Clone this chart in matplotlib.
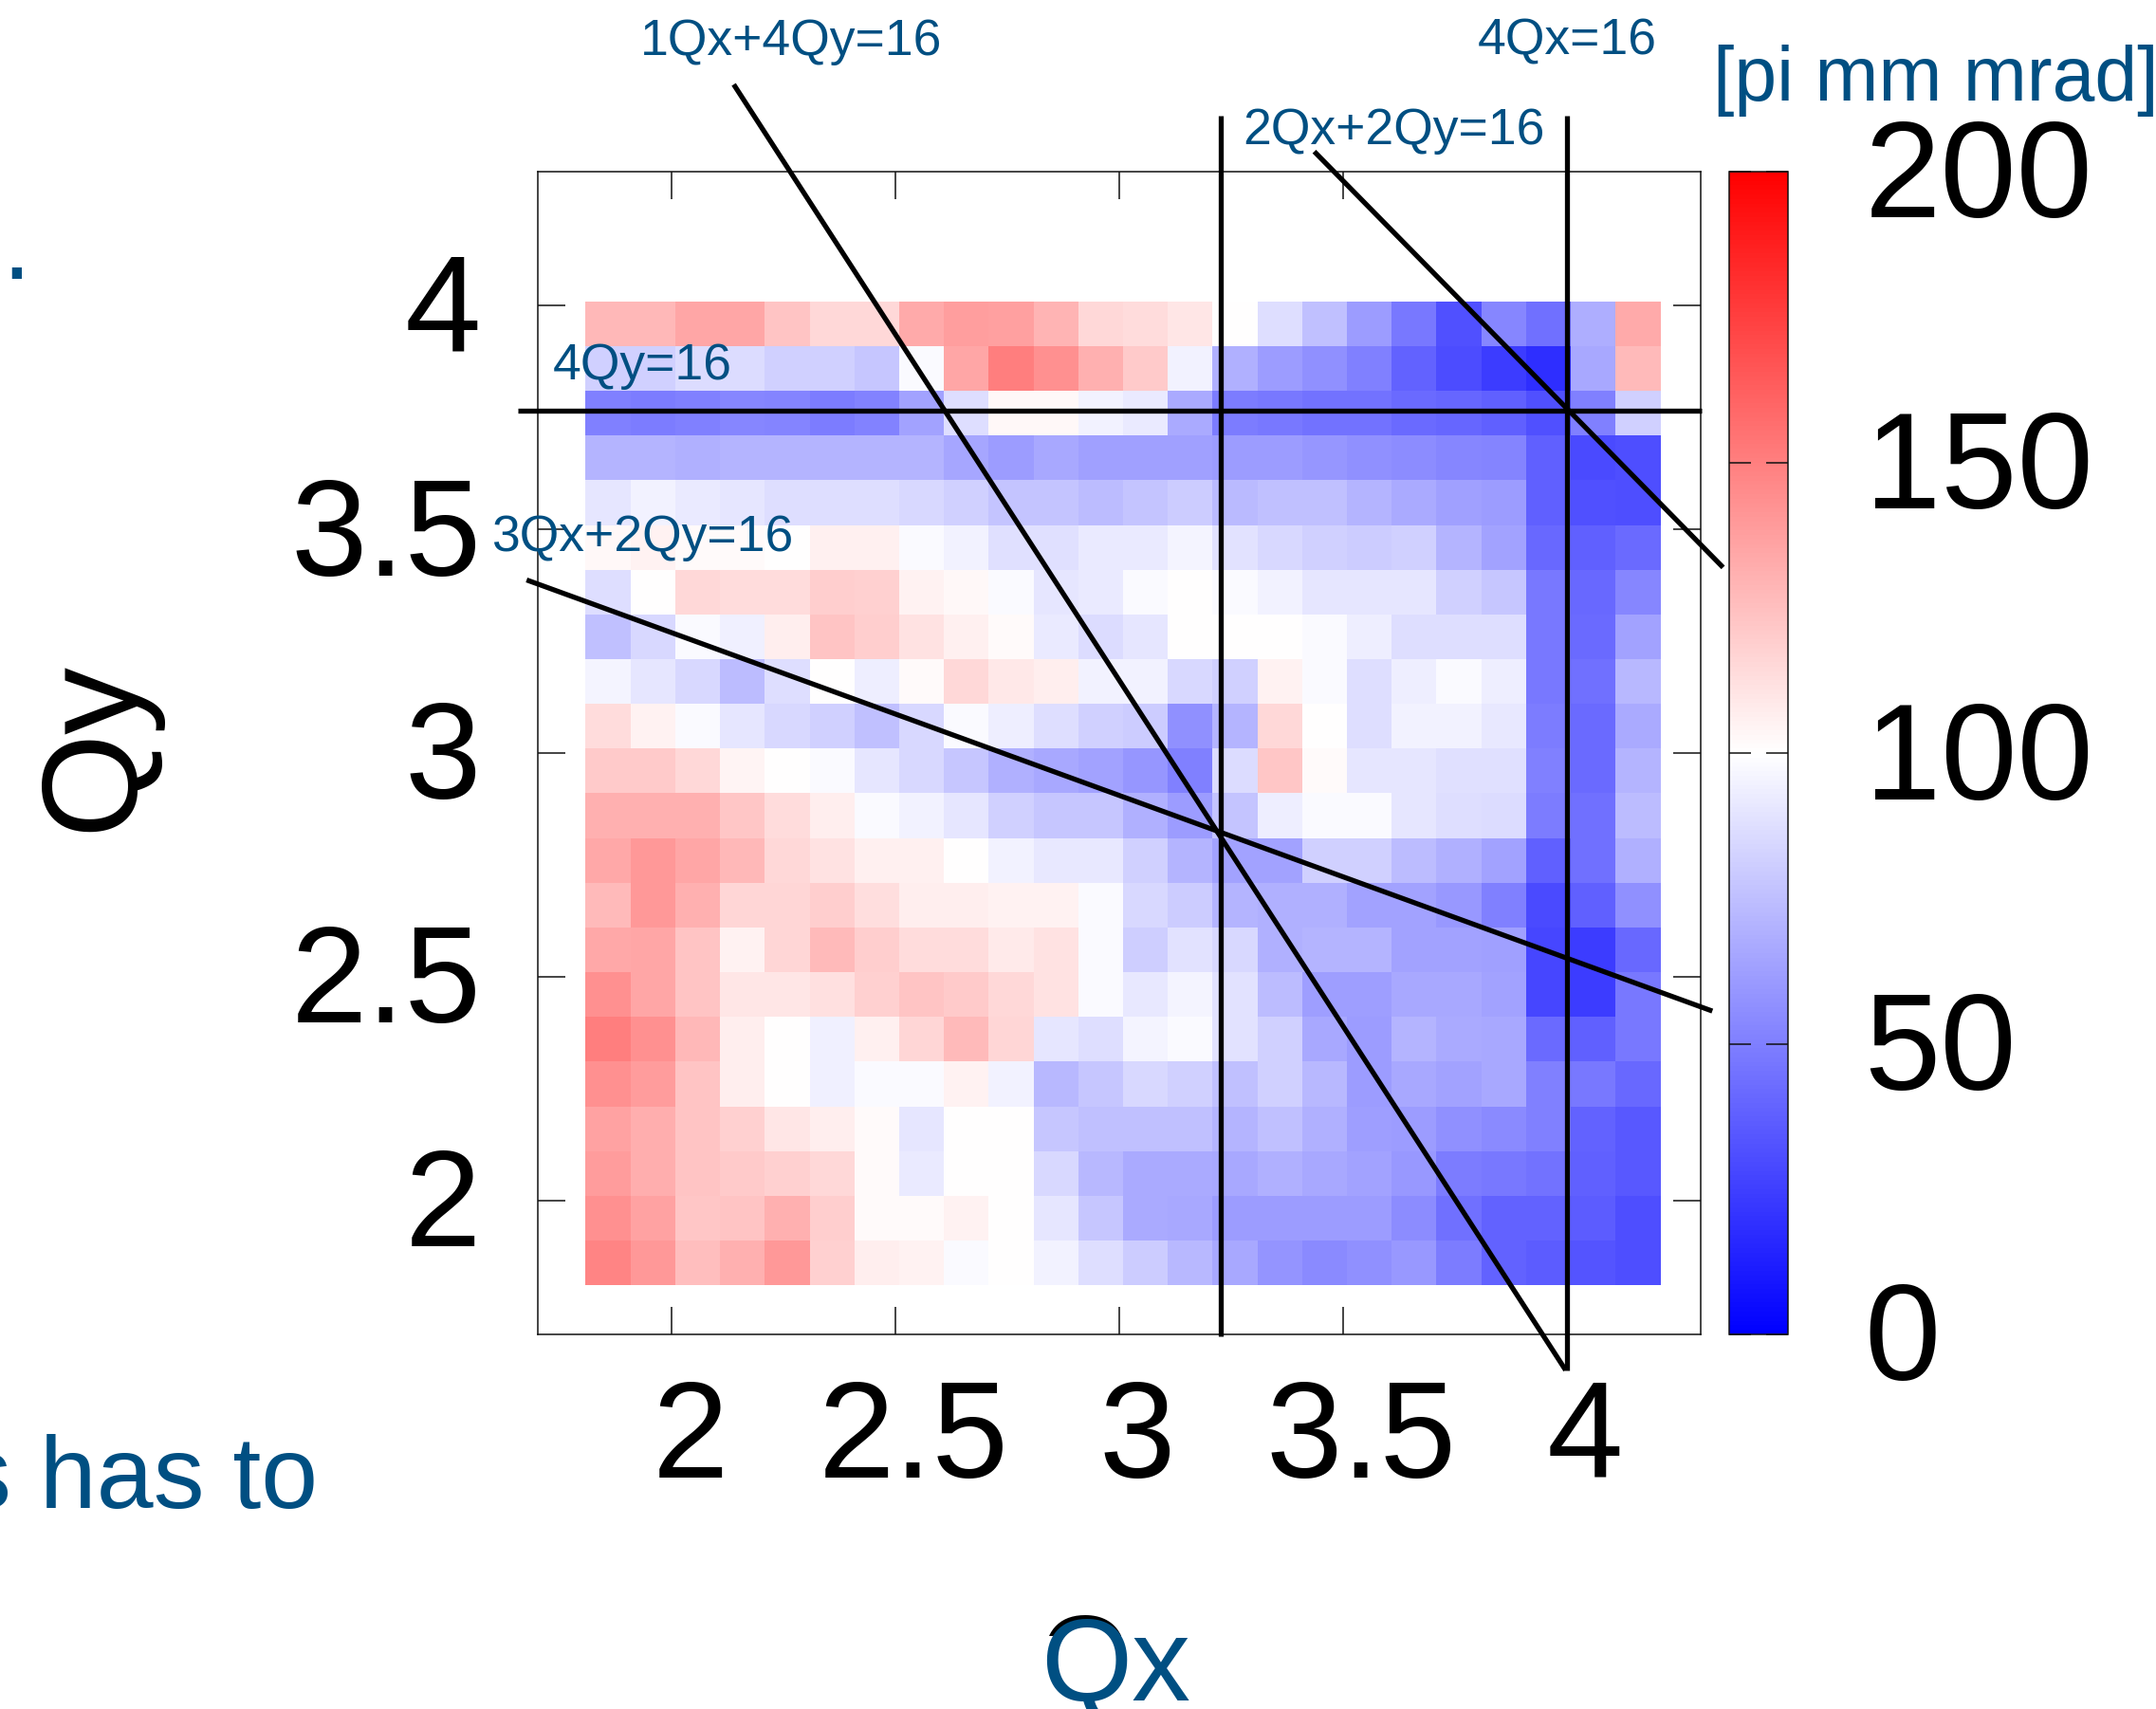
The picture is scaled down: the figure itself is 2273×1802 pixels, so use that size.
import numpy as np
import matplotlib
matplotlib.use("Agg")
import matplotlib.pyplot as plt
from matplotlib.transforms import ScaledTranslation, Bbox

W, H = 2273, 1802
plt.rcParams['font.family'] = ['Liberation Sans', 'DejaVu Sans']

# emittance per cell, top row (highest Qy) first, left to right in Qx
emittance = [
 [128,128,135,135,123,115,115,133,138,137,129,115,114,110,100, 87, 75, 61, 47, 32, 53, 44, 68,133],
 [ 82, 82, 86, 86, 82, 82, 78, 98,135,150,143,131,121, 95, 69, 61, 57, 50, 39, 30, 24, 18, 66,127],
 [ 50, 49, 50, 53, 52, 49, 51, 64, 87,103,103, 95, 92, 67, 49, 47, 45, 45, 42, 40, 38, 32, 50, 82],
 [ 71, 71, 69, 71, 71, 71, 71, 71, 65, 61, 66, 63, 63, 63, 61, 61, 59, 57, 55, 53, 52, 38, 29, 31],
 [ 90, 95, 92, 90, 87, 87, 87, 85, 82, 77, 77, 74, 77, 80, 73, 75, 75, 71, 67, 63, 61, 38, 32, 31],
 [103,105,102,102,100,106,106, 98, 95, 88, 88, 92, 92, 96, 89, 85, 82, 80, 82, 71, 64, 41, 38, 42],
 [ 87,100,115,114,114,119,118,105,103, 98, 90, 92, 98,100, 98, 95, 90, 90, 90, 82, 78, 47, 41, 53],
 [ 75, 85, 98, 94,107,123,119,111,106,102, 92, 86, 90,100,100,100, 98, 93, 87, 87, 87, 47, 42, 64],
 [ 96, 90, 85, 74, 87,100, 93,102,115,109,107, 95, 95, 85, 82,105, 98, 87, 93, 98, 93, 47, 44, 72],
 [114,105, 98, 90, 85, 82, 75, 85, 98, 93, 87, 82, 80, 57, 71,115,100, 87, 95, 95, 91, 49, 42, 67],
 [121,121,115,104,100, 98, 90, 85, 78, 69, 66, 64, 59, 50, 86,122,102, 90, 90, 88, 88, 50, 42, 71],
 [131,131,131,122,114,107, 98, 95, 90, 82, 78, 78, 69, 61, 77, 93, 98, 98, 90, 87, 86, 49, 44, 74],
 [134,140,135,128,115,111,106,106,100, 95, 91, 91, 82, 71, 64, 64, 82, 82, 74, 69, 64, 38, 44, 69],
 [127,140,131,116,116,119,113,107,107,105,105, 98, 85, 80, 71, 69, 69, 64, 64, 60, 50, 29, 38, 57],
 [134,135,123,105,116,127,119,114,114,108,111, 98, 81, 89, 85, 69, 71, 71, 64, 64, 63, 28, 24, 41],
 [143,135,123,110,110,112,118,123,121,115,111, 98, 91, 96, 89, 74, 62, 62, 66, 66, 64, 28, 24, 47],
 [150,143,128,107,100, 94,106,116,127,116, 90, 87, 96, 98, 89, 82, 66, 61, 71, 67, 66, 42, 38, 47],
 [143,139,123,107,100, 94, 98, 98,105, 95, 72, 78, 85, 82, 75, 82, 72, 61, 66, 64, 66, 50, 47, 41],
 [136,132,123,118,110,107,102, 90,100,100, 78, 75, 75, 75, 71, 75, 69, 62, 61, 57, 54, 50, 39, 35],
 [139,132,123,121,118,115,102, 92,100,100, 85, 72, 67, 67, 66, 69, 66, 64, 60, 49, 47, 45, 38, 35],
 [143,136,122,123,131,119,102,102,105,100, 90, 78, 67, 66, 61, 61, 61, 61, 55, 44, 39, 39, 36, 31],
 [148,140,125,131,140,118,107,105, 98,100, 95, 87, 80, 72, 66, 58, 54, 57, 60, 49, 39, 36, 33, 31],
]
qx_range = (1.807, 4.21)
qy_range = (1.81, 4.01)
axis_limits = (1.7, 4.3)
tick_values = [2, 2.5, 3, 3.5, 4]
tick_labels = ['2', '2.5', '3', '3.5', '4']
cbar_ticks = [0, 50, 100, 150, 200]

# resonance lines as drawn on the slide: (x0, y0, x1, y1) in Qx/Qy units
res_1x4y = (2.138, 4.495, 3.998, 1.620)
res_2x2y = (3.436, 4.345, 4.350, 3.415)
res_3x2y = (1.675, 3.387, 4.326, 2.423)
res_4x_a = (3.226, 4.425, 3.226, 1.696)
res_4x_b = (4.000, 4.425, 4.000, 1.620)
res_4y   = (1.656, 3.766, 4.303, 3.766)
res_lines = [res_1x4y, res_2x2y, res_3x2y, res_4x_a, res_4x_b, res_4y]

# annotation text: label, left x and baseline y in image pixels
BLUE = '#004f82'
res_labels = [
 ('1Qx+4Qy=16', 675, 58),
 ('4Qx=16', 1558, 58),
 ('2Qx+2Qy=16', 1310, 152),
 ('4Qy=16', 583, 400),
 ('3Qx+2Qy=16', 518, 581),
]

fig = plt.figure(figsize=(W/100, H/100), dpi=100, facecolor='white')
ax = fig.add_axes([567/W, 1-1407/H, 1226/W, 1226/H])
data = np.array(emittance, dtype=float)[::-1]
xe = np.linspace(qx_range[0], qx_range[1], data.shape[1]+1)
ye = np.linspace(qy_range[0], qy_range[1], data.shape[0]+1)
mesh = ax.pcolormesh(xe, ye, data, cmap='bwr', vmin=0, vmax=200, linewidth=0, rasterized=True)
ax.set_xlim(*axis_limits)
ax.set_ylim(*axis_limits)
ax.set_xticks(tick_values, tick_labels)
ax.set_yticks(tick_values, tick_labels)
ax.tick_params(axis='both', direction='in', length=21, width=1.1, top=True, right=True,
               labelsize=104, color='#111111')
ax.tick_params(axis='x', pad=33)
ax.tick_params(axis='y', pad=43)
xoffset = ScaledTranslation(19/100, 0, fig.dpi_scale_trans)
yoffset = ScaledTranslation(0, 4/100, fig.dpi_scale_trans)
for lab in ax.get_xticklabels():
    lab.set_transform(lab.get_transform() + xoffset)
for lab in ax.get_yticklabels():
    lab.set_transform(lab.get_transform() + yoffset)
for s in ax.spines.values():
    s.set_linewidth(1.1)
    s.set_color('#111111')

for x0, y0, x1, y1 in res_lines:
    ax.plot([x0, x1], [y0, y1], color='black', lw=3.8, clip_on=False, zorder=5,
            solid_capstyle='butt')

cax = fig.add_axes([1822.5/W, 1-1407/H, 62.5/W, 1226/H])
cb = fig.colorbar(mesh, cax=cax, ticks=cbar_ticks)
cb.outline.set_linewidth(1.1)
cb.outline.set_edgecolor('#111111')
cax.tick_params(axis='y', direction='in', length=16.5, width=1.1, left=True, right=True,
                labelsize=104, pad=58, color='#111111')
cax.set_yticklabels([str(v) for v in cbar_ticks])
for lab in cax.get_yticklabels():
    lab.set_transform(lab.get_transform() + yoffset)

def ftext(s, x, y, **kw):
    return fig.text(x/W, 1-y/H, s, va='baseline', ha=kw.pop('ha', 'left'), **kw)

for s, x, y in res_labels:
    ftext(s, x, y, color=BLUE, fontsize=38.5, zorder=6)
ftext('[pi mm mrad]', 1806, 106, color=BLUE, fontsize=58)
ftext('s has to', 335, 1590, color=BLUE, fontsize=77.5, ha='right')
ftext('.', 2, 294, color=BLUE, fontsize=77)

# black axis label showing just above the blue one that was pasted over it
qb = ftext('Q', 1095, 1789, color='black', fontsize=89)
qb.set_clip_box(Bbox([[1090, H-1725], [1240, H-1680]]))
qb.set_clip_on(True)
ftext('Qx', 1097, 1793, color=BLUE, fontsize=89)

fig.text(101/W, 1-787/H, 'Qy', rotation=90, ha='center', va='center', fontsize=102, color='black')

fig.savefig('out.png', dpi=100)
